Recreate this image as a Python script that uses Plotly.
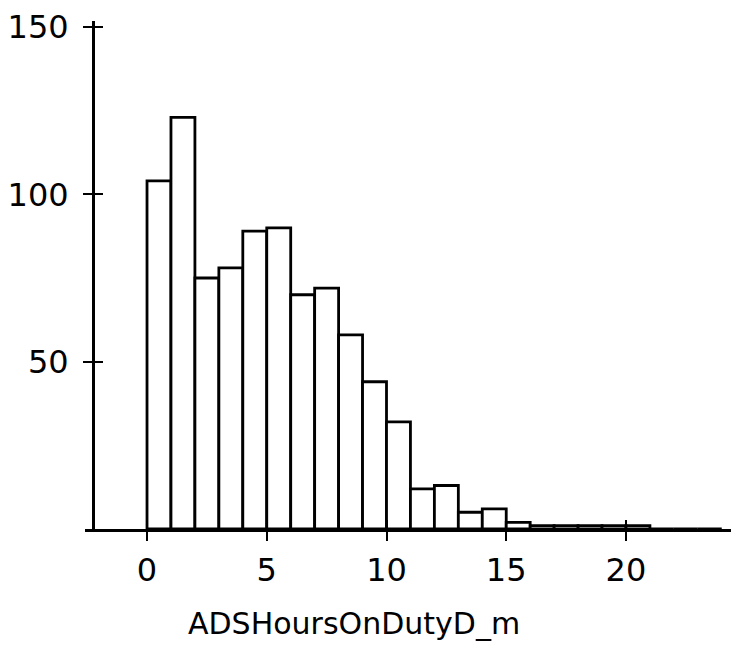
import plotly.graph_objects as go

# Histogram of ADSHoursOnDutyD_m, bins of width 1 starting at 0
bin_starts = list(range(24))
counts = [104, 123, 75, 78, 89, 90, 70, 72, 58, 44, 32, 12, 13, 5, 6, 2,
          1, 1, 1, 1, 1, 0, 0, 0]
x_ticks = [0, 5, 10, 15, 20]
y_ticks = [50, 100, 150]
x_title = "ADSHoursOnDutyD_m"

FONT = "DejaVu Sans"
TICK_FS = 32
TITLE_FS = 30

fig = go.Figure()
fig.add_trace(go.Bar(
    x=[b + 0.5 for b in bin_starts], y=counts, width=1,
    marker=dict(color="white", line=dict(color="black", width=2.8)),
    showlegend=False, hoverinfo="skip",
))
# invisible copy to carry the overlay axes (crossing ticks)
fig.add_trace(go.Bar(
    x=[b + 0.5 for b in bin_starts], y=counts, width=1, xaxis="x2", yaxis="y2",
    marker=dict(color="rgba(0,0,0,0)", line=dict(width=0)),
    showlegend=False, hoverinfo="skip",
))

xr = [-2.59, 24.72]
yr = [0, 151.8]
ypos = 8 / 654

fig.update_layout(
    width=731, height=637,
    margin=dict(l=77, r=0, t=10, b=116),
    plot_bgcolor="white", paper_bgcolor="white",
    font=dict(family=FONT, size=TICK_FS, color="black"),
    xaxis=dict(range=xr, tickvals=x_ticks, ticks="outside", ticklen=9, tickwidth=2.2,
               tickcolor="black", showline=True, linecolor="black", linewidth=3,
               showgrid=False, zeroline=False, tickfont=dict(family=FONT, size=TICK_FS),
               ticklabelstandoff=2, ticklabeloverflow="allow"),
    yaxis=dict(range=yr, tickvals=y_ticks, ticktext=[str(v) for v in y_ticks],
               ticks="outside", ticklen=9, tickwidth=2.2,
               tickcolor="black", showline=True, linecolor="black", linewidth=3,
               showgrid=False, zeroline=False, anchor="free", position=ypos,
               tickfont=dict(family=FONT, size=TICK_FS), ticklabelstandoff=8,
               ticklabeloverflow="allow"),
    xaxis2=dict(range=xr, tickvals=x_ticks, ticks="inside", ticklen=9, tickwidth=2.2,
                tickcolor="black", showline=False, showgrid=False, zeroline=False,
                showticklabels=False, overlaying="x", anchor="y2"),
    yaxis2=dict(range=yr, tickvals=y_ticks, ticks="inside", ticklen=9, tickwidth=2.2,
                tickcolor="black", showline=False, showgrid=False, zeroline=False,
                showticklabels=False, overlaying="y", anchor="free", position=ypos),
    annotations=[dict(text=x_title, xref="paper", yref="paper",
                      x=(354 - 85) / 654, y=(529 - 624) / 511,
                      xanchor="center", yanchor="middle", showarrow=False,
                      font=dict(family=FONT, size=TITLE_FS, color="black"))],
)

fig.write_html("out.html")
